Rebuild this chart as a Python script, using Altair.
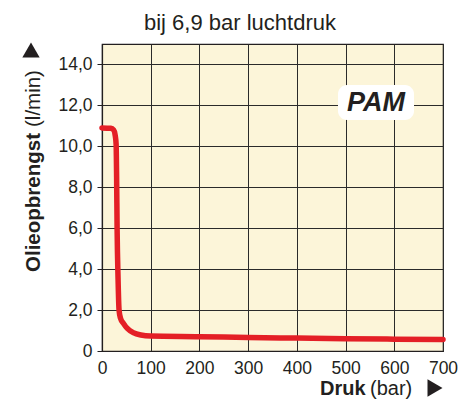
import altair as alt
import pandas as pd

# Curve data
druk = [0, 18, 24, 27, 29, 30, 31, 33, 35, 38, 44, 52, 64, 80, 100, 200, 300, 400, 500, 600, 700]
olie = [10.9, 10.88, 10.8, 10.55, 10.1, 8.5, 6.0, 3.5, 2.0, 1.6, 1.35, 1.1, 0.9, 0.78, 0.73, 0.7, 0.66, 0.63, 0.6, 0.58, 0.56]

x_ticks = [0, 100, 200, 300, 400, 500, 600, 700]
y_ticks = [0, 2, 4, 6, 8, 10, 12, 14]

title_text = "bij 6,9 bar luchtdruk"
label_text = "PAM"

df = pd.DataFrame({"druk": druk, "olie": olie})

FONT = "Liberation Sans"
INK = "#231f20"

W, H = 341, 307

xscale = alt.Scale(domain=[0, 700], nice=False, zero=False)
yscale = alt.Scale(domain=[0, 15], nice=False)

label_expr = "datum.value == 0 ? '0' : replace(format(datum.value, '.1f'), '.', ',')"

line = alt.Chart(df).mark_line(
    color="#e41f26", strokeWidth=5.5, interpolate="monotone", strokeCap="round", strokeJoin="round"
).encode(
    x=alt.X("druk:Q", scale=xscale, axis=alt.Axis(
        values=x_ticks, grid=True, gridColor="#2a2a2a", gridOpacity=1, gridWidth=1,
        ticks=False, domainColor=INK, domainWidth=1.2, labelFontSize=17.5, labelColor=INK,
        labelFont=FONT, labelPadding=8, title=None, labelFlush=False)),
    y=alt.Y("olie:Q", scale=yscale, axis=alt.Axis(
        values=y_ticks, grid=True, gridColor="#2a2a2a", gridOpacity=1, gridWidth=1,
        ticks=True, tickSize=5, tickColor=INK, domainColor=INK, domainWidth=1.2,
        labelFontSize=17.5, labelColor=INK, labelFont=FONT, labelPadding=5,
        labelExpr=label_expr, title=None, labelFlush=False)),
)

ann = pd.DataFrame({"t": [0]})
base = alt.Chart(ann)

title = base.mark_text(font=FONT, fontSize=22, color=INK, align="center", baseline="middle").encode(
    x=alt.value(240 - 102), y=alt.value(23 - 44), text=alt.value(title_text))

pam_box = base.mark_rect(color="white", cornerRadius=9).encode(
    x=alt.value(338 - 102), x2=alt.value(414 - 102), y=alt.value(85 - 44), y2=alt.value(120 - 44))
pam = base.mark_text(font=FONT, fontSize=27, fontWeight="bold", fontStyle="italic", color=INK,
                     align="center", baseline="middle").encode(
    x=alt.value(376 - 102), y=alt.value(103 - 44), text=alt.value(label_text))

ytitle_b = base.mark_text(font=FONT, fontSize=20.5, fontWeight="bold", color=INK, angle=270,
                          align="left", baseline="middle").encode(
    x=alt.value(34 - 102), y=alt.value(272 - 44), text=alt.value("Olieopbrengst"))
ytitle_n = base.mark_text(font=FONT, fontSize=20.5, color=INK, angle=270,
                          align="left", baseline="middle").encode(
    x=alt.value(34 - 102), y=alt.value(127 - 44), text=alt.value("(l/min)"))
ytri = base.mark_point(shape="triangle-up", filled=True, color=INK, opacity=1, size=300).encode(
    x=alt.value(31 - 102), y=alt.value(50 - 44))

xtitle_b = base.mark_text(font=FONT, fontSize=20, fontWeight="bold", color=INK,
                          align="left", baseline="alphabetic").encode(
    x=alt.value(320 - 102), y=alt.value(395 - 44), text=alt.value("Druk"))
xtitle_n = base.mark_text(font=FONT, fontSize=20, color=INK,
                          align="left", baseline="alphabetic").encode(
    x=alt.value(370 - 102), y=alt.value(395 - 44), text=alt.value("(bar)"))
xtri = base.mark_point(shape="triangle-right", filled=True, color=INK, opacity=1, size=300).encode(
    x=alt.value(435 - 102), y=alt.value(388 - 44))

chart = alt.layer(
    line, pam_box, pam, title, ytitle_b, ytitle_n, ytri, xtitle_b, xtitle_n, xtri
).properties(
    width=W, height=H,
    autosize=alt.AutoSizeParams(type="none"),
    padding={"left": 94, "top": 36, "right": 19, "bottom": 49},
).configure(background="white").configure_view(
    fill="#fcf5d9", stroke=INK, strokeWidth=1.2
)

chart.save("out.html", embed_options={"renderer": "svg", "actions": False})
